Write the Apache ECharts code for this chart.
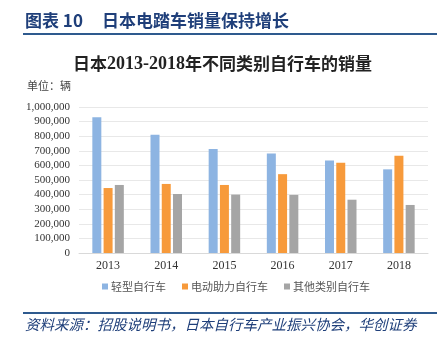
<!DOCTYPE html>
<html lang="zh">
<head>
<meta charset="UTF-8">
<title>日本电踏车销量</title>
<script src="https://cdn.jsdelivr.net/npm/echarts@6.0.0/dist/echarts.min.js"></script>
<style>
  html, body { margin: 0; padding: 0; background: #fff; }
  #main { width: 445px; height: 353px; }
</style>
</head>
<body>
<div id="main"></div>
<script>
  // 年份与三类自行车销量（辆）
  const years = ['2013', '2014', '2015', '2016', '2017', '2018'];
  const lightBike = [930000, 810000, 712000, 682000, 634000, 573000];
  const eBike = [445000, 473000, 466000, 540000, 618000, 666000];
  const otherBike = [466000, 404000, 400000, 398000, 365000, 329000];
  const seriesNames = ['轻型自行车', '电动助力自行车', '其他类别自行车'];
  const colors = ['#8DB4E2', '#F79A3B', '#A5A5A5'];

  const chart = echarts.init(document.getElementById('main'));
  const serif = '"Liberation Serif", "Times New Roman", serif';
  const cjk = '"Noto Sans CJK SC", sans-serif';

  const option = {
    animation: false,
    color: colors,
    grid: { left: 79, right: 17, top: 107, bottom: 100, containLabel: false },
    graphic: [
      { type: 'text', left: 25, top: 12,
        style: { text: '图表 10', fill: '#1F3F7A', font: 'bold 17px ' + cjk } },
      { type: 'text', left: 102, top: 12,
        style: { text: '日本电踏车销量保持增长', fill: '#1F3F7A', font: 'bold 17px ' + cjk } },
      { type: 'rect', shape: { x: 23, y: 33, width: 414, height: 2 }, style: { fill: '#2E5A8E' } },
      { type: 'text', left: 27, top: 80,
        style: { text: '单位：辆', fill: '#444', font: '11px ' + cjk } },
      { type: 'rect', shape: { x: 23, y: 312, width: 414, height: 2 }, style: { fill: '#2E5A8E' } },
      { type: 'text', left: 25, top: 317,
        style: { text: '资料来源：招股说明书，日本自行车产业振兴协会，华创证券', fill: '#1F3F7A', font: 'italic 14.5px ' + cjk } }
    ],
    title: {
      text: '{a|日本}{b|2013-2018}{a|年不同类别自行车的销量}',
      left: 'center',
      top: 50,
      textStyle: {
        rich: {
          a: { fontFamily: cjk, fontSize: 17, color: '#222' },
          b: { fontFamily: serif, fontWeight: 'bold', fontSize: 18, color: '#222' }
        }
      }
    },
    legend: {
      bottom: 56,
      left: 97,
      itemWidth: 6,
      itemHeight: 6,
      itemGap: 16,
      icon: 'rect',
      textStyle: { fontFamily: cjk, fontSize: 11, color: '#555', padding: [0, 0, 0, -2] },
      data: seriesNames
    },
    xAxis: {
      type: 'category',
      data: years,
      axisLine: { lineStyle: { color: '#D9D9D9' } },
      axisTick: { show: false },
      axisLabel: { fontFamily: serif, fontSize: 12, color: '#333', margin: 7 }
    },
    yAxis: {
      type: 'value',
      min: 0,
      max: 1000000,
      interval: 100000,
      axisLine: { show: false },
      axisTick: { show: false },
      splitLine: { lineStyle: { color: '#E8E8E8' } },
      axisLabel: {
        fontFamily: serif, fontSize: 11, color: '#333', margin: 9,
        formatter: v => v.toLocaleString('en-US')
      }
    },
    series: [
      { name: seriesNames[0], type: 'bar', data: lightBike, barWidth: 9, barGap: '25%' },
      { name: seriesNames[1], type: 'bar', data: eBike, barWidth: 9, barGap: '25%' },
      { name: seriesNames[2], type: 'bar', data: otherBike, barWidth: 9, barGap: '25%' }
    ]
  };
  chart.setOption(option);
</script>
</body>
</html>
